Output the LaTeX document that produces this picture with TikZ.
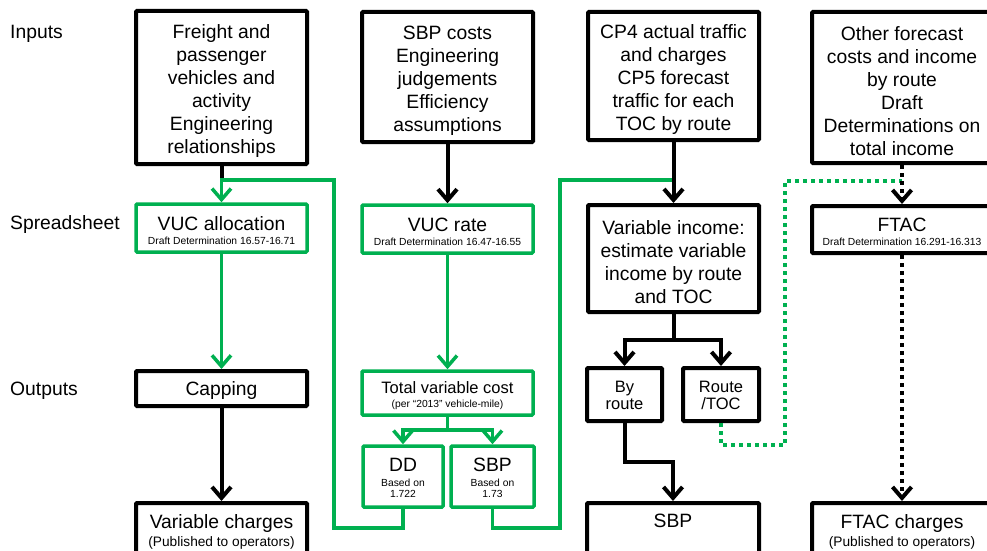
\documentclass[tikz,border=0pt]{standalone}
\usepackage{fontspec}
\setmainfont{Liberation Sans}
\usetikzlibrary{arrows.meta}
\definecolor{vgreen}{RGB}{0,176,80}
\newcommand{\mainsz}{\fontsize{19.3}{23}\selectfont}
\newcommand{\midsz}{\fontsize{16.5}{20}\selectfont}
\newcommand{\pubsz}{\fontsize{13.7}{16}\selectfont}
\newcommand{\tinysz}{\fontsize{10.3}{12}\selectfont}
% top struts so the first line sits like a full line box
\newcommand{\topstrut}[1][0.95]{\rule{0pt}{#1em}}
\tikzset{
  box/.style={draw=black, line width=4pt, fill=white, align=center,
    font=\mainsz, inner sep=2pt, rounded corners=1pt,
    execute at begin node=\topstrut},
  gbox/.style={box, draw=vgreen, line width=3.5pt},
  rowlabel/.style={anchor=west, font=\mainsz, inner sep=0pt},
  tip/.style={-{Straight Barb[length=11pt,width=19pt]}},
  bline/.style={draw=black, line width=4pt},
  gline/.style={draw=vgreen, line width=3.5pt},
  bdots/.style={bline, dash pattern=on 4pt off 4pt},
  gdots/.style={gline, dash pattern=on 4pt off 4pt},
}
\begin{document}
\begin{tikzpicture}[x=1pt, y=-1pt]
\useasboundingbox (0,0) rectangle (987,551);

% row labels
\node[rowlabel] (lin)  at (10,34)  {Inputs};
\node[rowlabel] (lsp)  at (10,225) {Spreadsheet};
\node[rowlabel] (lout) at (10,391) {Outputs};

% inputs
\node[box, minimum width=171pt, minimum height=153pt] (in1) at (221.5,87.5)
  {\topstrut[1.05]Freight and\\passenger\\vehicles and\\activity\\Engineering\\relationships};
\node[box, minimum width=171pt, minimum height=130pt] (in2) at (447.5,77)
  {\topstrut[1.05]SBP costs\\Engineering\\judgements\\Efficiency\\assumptions};
\node[box, minimum width=171pt, minimum height=128pt] (in3) at (673.5,76)
  {\topstrut[1.05]CP4 actual traffic\\and charges\\CP5 forecast\\traffic for each\\TOC by route};
\node[box, minimum width=180pt, minimum height=151pt] (in4) at (902,87.5)
  {\topstrut[1.05]Other forecast\\costs and income\\by route\\Draft\\Determinations on\\total income};

% spreadsheet row
\node[gbox, minimum width=171pt, minimum height=48pt] (vucA) at (221.5,228)
  {\topstrut VUC allocation\\[-9pt]{\tinysz Draft Determination 16.57-16.71}};
\node[gbox, minimum width=171pt, minimum height=48pt] (vucR) at (447.5,229)
  {\topstrut VUC rate\\[-9pt]{\tinysz Draft Determination 16.47-16.55}};
\node[box, minimum width=171pt, minimum height=107pt] (varinc) at (673.5,258.5)
  {\topstrut[1.05]Variable income:\\estimate variable\\income by route\\and TOC};
\node[box, minimum width=180pt, minimum height=47pt] (ftac) at (902,229.5)
  {\topstrut FTAC\\[-9pt]{\tinysz Draft Determination 16.291-16.313}};

% outputs row
\node[box, minimum width=171pt, minimum height=35pt] (cap) at (221.5,388.5) {Capping};
\node[gbox, minimum width=171pt, minimum height=44pt, font=\midsz] (tvc) at (447.5,393)
  {\topstrut[1.05]Total variable cost\\[-6pt]{\tinysz (per “2013” vehicle-mile)}};
\node[gbox, minimum width=80pt, minimum height=61pt] (dd) at (403,476.5)
  {\topstrut[0.85]DD\\[-8pt]{\tinysz Based on}\\[-12pt]{\tinysz 1.722}};
\node[gbox, minimum width=83pt, minimum height=61pt] (sbpg) at (492.5,476.5)
  {\topstrut[0.85]SBP\\[-8pt]{\tinysz Based on}\\[-12pt]{\tinysz 1.73}};
\node[box, minimum width=75pt, minimum height=53pt, font=\midsz] (byr) at (624.5,394.5)
  {\topstrut[0.85]By\\[-3pt]route};
\node[box, minimum width=76pt, minimum height=53pt, font=\midsz] (rtoc) at (721,394.5)
  {\topstrut[0.85]Route\\[-3pt]/TOC};

% published results
\node[box, minimum width=171pt, minimum height=56pt] (varch) at (221.5,531)
  {\topstrut[0.85]Variable charges\\[-5pt]{\pubsz (Published to operators)}};
\node[box, minimum width=172pt, minimum height=56pt] (sbpb) at (673,531)
  {\topstrut[0.85]SBP\\[-5pt]{\pubsz\strut}};
\node[box, minimum width=180pt, minimum height=56pt] (ftacch) at (902,531)
  {\topstrut[0.85]FTAC charges\\[-5pt]{\pubsz (Published to operators)}};

% junction points
\coordinate (j1) at (221.5,180);
\coordinate (j3) at (673.5,180);
\coordinate (j4) at (902,181);

% left column
\draw[bline] (in1.south) -- (j1);
\draw[gline, tip] (dd.south) -- (403,528) -- (334,528) -- (334,180) -- (j1) -- (vucA.north);
\draw[gline, tip] (vucA.south) -- (cap.north);
\draw[bline, tip] (cap.south) -- (varch.north);

% second column
\draw[bline, tip] (in2.south) -- (vucR.north);
\draw[gline, tip] (vucR.south) -- (tvc.north);
\draw[gline] (tvc.south) -- (447.5,430);
\draw[gline, tip] (447.5,430) -| (dd.north);
\draw[gline, tip] (447.5,430) -| (sbpg.north);

% third column
\draw[gline] (sbpg.south) -- (492.5,528) -- (560,528) -- (560,180) -- (j3);
\draw[bline, tip] (in3.south) -- (varinc.north);
\draw[bline] (varinc.south) -- (673.5,340);
\draw[bline, tip] (673.5,340) -| (byr.north);
\draw[bline, tip] (673.5,340) -| (rtoc.north);
\draw[bline, tip] (byr.south) -- (624.5,462) -| (sbpb.north);

% right column
\draw[gdots] (rtoc.south) -- (721,445) -- (785,445) -- (785,181) -- (j4);
\draw[bdots, tip] (in4.south) -- (ftac.north);
\draw[bdots, tip] (ftac.south) -- (ftacch.north);
\end{tikzpicture}
\end{document}
